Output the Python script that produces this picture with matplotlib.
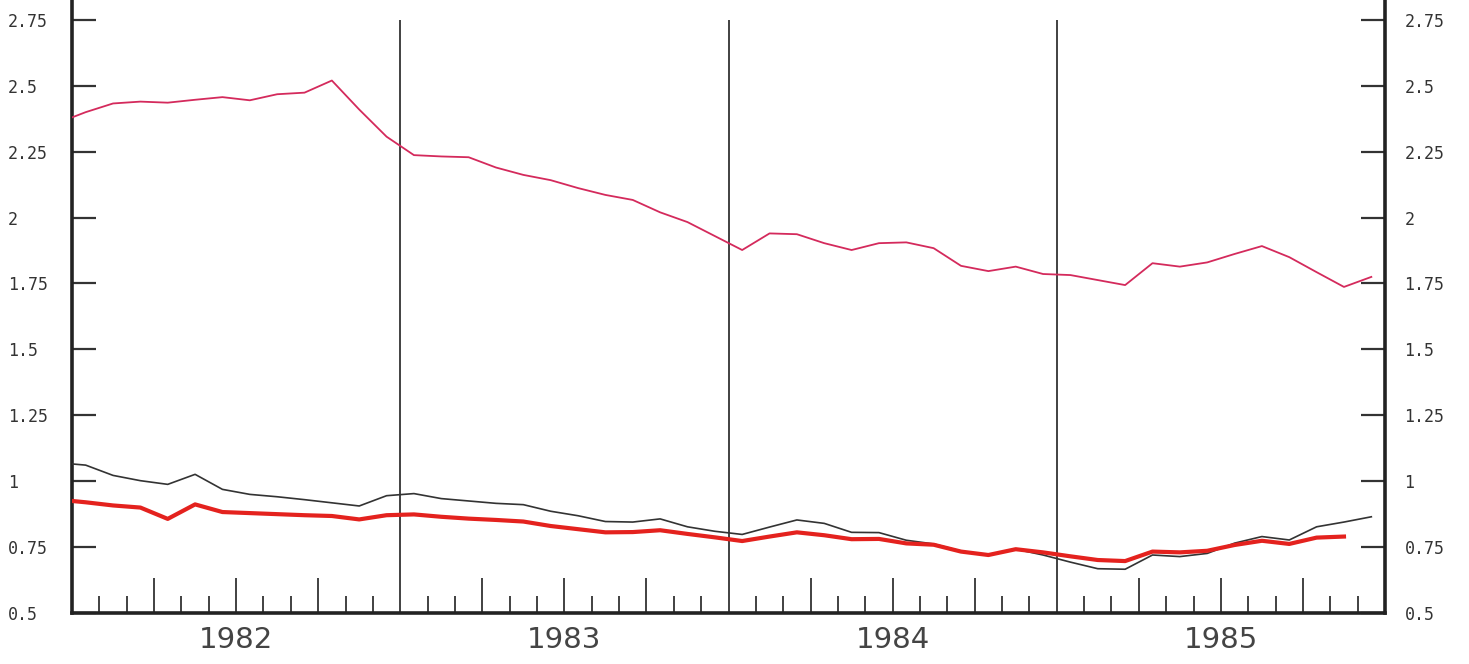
import numpy as np
import matplotlib
matplotlib.use("Agg")
from matplotlib import pyplot as plt
from matplotlib import transforms

# monthly values, mid-month, Dec 1981 .. Dec 1985
pink = [2.36, 2.40, 2.433, 2.44, 2.436, 2.447, 2.457, 2.445, 2.468, 2.474, 2.52, 2.41, 2.307,
        2.237, 2.232, 2.229, 2.19, 2.162, 2.142, 2.112, 2.086, 2.067, 2.02, 1.983, 1.93,
        1.877, 1.94, 1.937, 1.903, 1.877, 1.903, 1.906, 1.884, 1.817, 1.797, 1.814, 1.786,
        1.782, 1.763, 1.744, 1.827, 1.814, 1.83, 1.862, 1.892, 1.85, 1.793, 1.737, 1.775]
black = [1.07, 1.061, 1.022, 1.002, 0.988, 1.026, 0.969, 0.95, 0.941, 0.93, 0.918, 0.906, 0.945,
         0.953, 0.934, 0.925, 0.916, 0.911, 0.886, 0.869, 0.847, 0.845, 0.857, 0.827, 0.81,
         0.798, 0.826, 0.853, 0.84, 0.806, 0.805, 0.776, 0.762, 0.735, 0.72, 0.742, 0.72,
         0.693, 0.668, 0.666, 0.72, 0.714, 0.726, 0.765, 0.79, 0.777, 0.827, 0.845, 0.865]
red = [0.93, 0.92, 0.908, 0.90, 0.857, 0.912, 0.883, 0.879, 0.875, 0.871, 0.868, 0.855, 0.871,
       0.874, 0.865, 0.858, 0.853, 0.847, 0.83, 0.818, 0.806, 0.807, 0.814, 0.80, 0.787,
       0.773, 0.79, 0.806, 0.795, 0.78, 0.781, 0.764, 0.759, 0.733, 0.72, 0.742, 0.73,
       0.715, 0.701, 0.697, 0.733, 0.73, 0.736, 0.758, 0.774, 0.762, 0.786, 0.79]

years = [1982, 1983, 1984, 1985]
ytick_vals = [0.5, 0.75, 1, 1.25, 1.5, 1.75, 2, 2.25, 2.5, 2.75]
ytick_labels = ["0.5", "0.75", "1", "1.25", "1.5", "1.75", "2", "2.25", "2.5", "2.75"]


def month_x(n):
    # first value sits half a month before the axis and gets clipped
    return 1982 + (np.arange(n) - 0.5) / 12.0


fig = plt.figure(figsize=(14.69, 6.64), dpi=100)
ax = fig.add_axes([72 / 1469, 51 / 664, (1385 - 72) / 1469, 613 / 664])

ax.plot(month_x(len(pink)), pink, color="#d42a5c", lw=1.3, zorder=3)
ax.plot(month_x(len(black)), black, color="#333333", lw=1.2, zorder=3)
ax.plot(month_x(len(red)), red, color="#e4221e", lw=3.0, zorder=4)

ax.set_xlim(1982, 1986)
ax.set_ylim(0.5, 0.5 + 613 / 263.6)

# year separators
ax.vlines(years[1:], 0.5, 2.75, color="#333333", lw=1.3, zorder=2)

for s in ["left", "right", "bottom"]:
    ax.spines[s].set_linewidth(2.6)
    ax.spines[s].set_color("#222222")
ax.spines["top"].set_visible(False)

# x ticks: quarters long, months short
months = 1982 + np.arange(1, 48) / 12.0
quarters = [m for i, m in enumerate(months, start=1) if i % 3 == 0 and i % 12 != 0]
monthly = [m for i, m in enumerate(months, start=1) if i % 3 != 0]
ax.set_xticks(quarters)
ax.set_xticks(monthly, minor=True)
ax.tick_params(axis="x", which="major", direction="in", length=25, width=1.3,
               color="#333333", labelbottom=False)
ax.tick_params(axis="x", which="minor", direction="in", length=12, width=1.3,
               color="#333333")

trans = transforms.blended_transform_factory(ax.transData, ax.transAxes)
for yr in years:
    ax.text(yr + 0.5, -0.044, str(yr), transform=trans, ha="center", va="center",
            fontsize=21, color="#444444", family="DejaVu Sans")

# y ticks both sides, labels left-aligned
ax.set_yticks(ytick_vals)
ax.set_yticklabels(ytick_labels)
ax.tick_params(axis="y", direction="in", length=17, width=1.6, color="#333333",
               left=True, right=True, labelleft=True, labelright=True,
               labelsize=12, labelcolor="#333333", pad=46)
offset = transforms.ScaledTranslation(-32 / 72, 0, fig.dpi_scale_trans)
for t in ax.yaxis.get_major_ticks():
    t.label1.set_horizontalalignment("left")
    t.label1.set_family("DejaVu Sans Mono")
    t.label2.set_family("DejaVu Sans Mono")
    t.label2.set_transform(t.label2.get_transform() + offset)

fig.savefig("out.png", dpi=100, facecolor="white")
